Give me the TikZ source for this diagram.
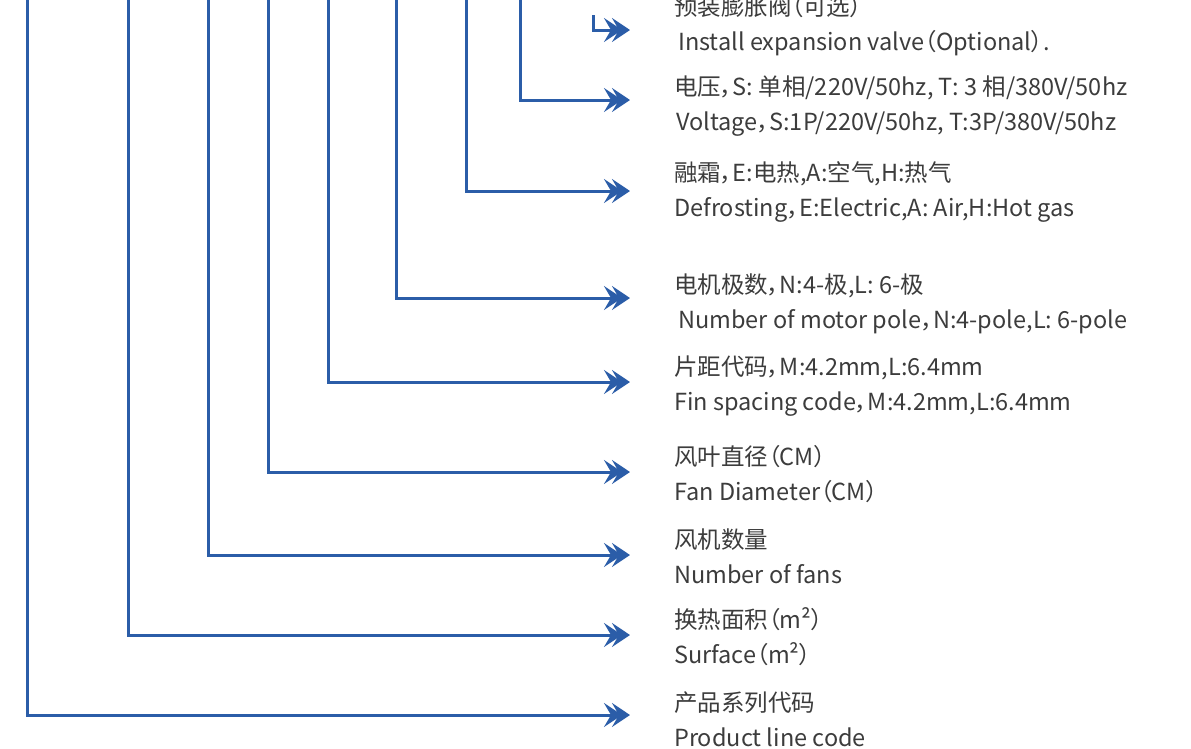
\documentclass[tikz,border=0pt]{standalone}
\usepackage{fontspec}
\newfontfamily\cjkfont[RawFeature=+palt]{Noto Sans CJK SC}
\usepackage{xcolor}
\usetikzlibrary{arrows.meta}
\definecolor{codeblue}{HTML}{2B5DA8}
\definecolor{labelgray}{HTML}{3C3C3C}
\tikzset{
  feed/.style={draw=codeblue, line width=3pt,
    -{Stealth[length=18pt,width=24pt,inset=7pt,sep=-10pt] Stealth[length=18pt,width=24pt,inset=7pt]}},
  codelabel/.style={anchor=west, inner sep=0pt, align=left, text=labelgray,
    font=\cjkfont\fontsize{23.5}{35}\selectfont},
}
\begin{document}
\begin{tikzpicture}[x=1pt,y=-1pt]
  \useasboundingbox (0,0) rectangle (1191,748);
  \clip (0,0) rectangle (1191,748);
  % one leader per field of the model code, right to left
  \foreach \n/\x/\ys/\y/\ym/\cn/\en in {
      1/593/15/30/26/{预装膨胀阀（可选）}/{\hspace{4pt}Install expansion valve（Optional）.},
      2/520/-5/100/106.5/{电压，S: 单相/220V/50hz, T: 3 相/380V/50hz}/{\hspace{2pt}Voltage，S:1P/220V/50hz, T:3P/380V/50hz},
      3/466/-5/191/191.5/{融霜，E:电热,A:空气,H:热气}/{Defrosting，E:Electric,A: Air,H:Hot gas},
      4/396/-5/298/303.5/{电机极数，N:4-极,L: 6-极}/{\hspace{4pt}Number of motor pole，N:4-pole,L: 6-pole},
      5/328/-5/382/386.5/{片距代码，M:4.2mm,L:6.4mm}/{Fin spacing code，M:4.2mm,L:6.4mm},
      6/268/-5/472/474/{风叶直径（CM）}/{Fan Diameter（CM）},
      7/208/-5/555/556.5/{风机数量}/{Number of fans},
      8/128/-5/635/637/{换热面积（m²）}/{Surface（m²）},
      9/27/-5/715/719.5/{产品系列代码}/{Product line code}} {
    \coordinate (top\n) at (\x,\ys);
    \coordinate (tip\n) at (630,\y);
    \node[codelabel] (lab\n) at (674,\ym) {\cn\\\en};
    \draw[feed] (top\n) |- (tip\n);
  }
\end{tikzpicture}
\end{document}
